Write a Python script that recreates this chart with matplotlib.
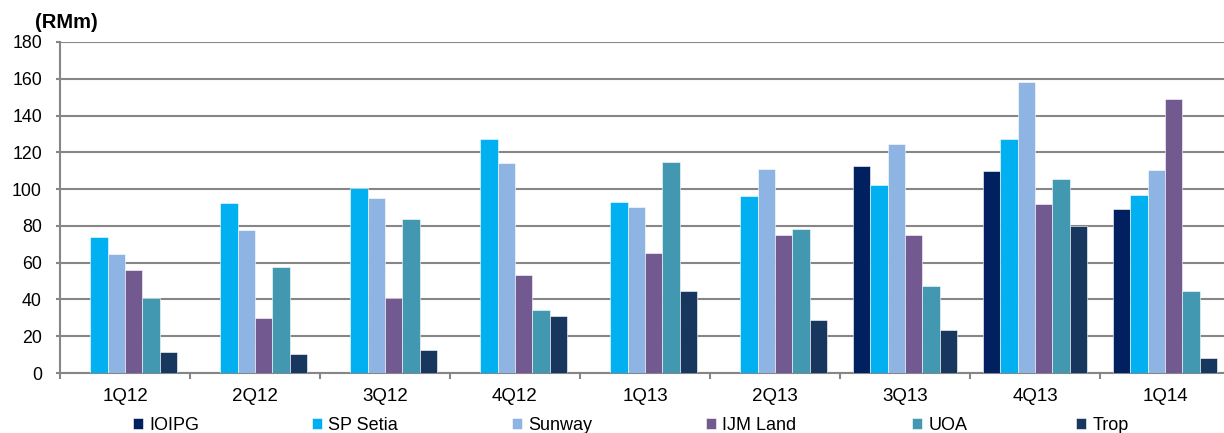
import numpy as np
from matplotlib import pyplot as plt

plt.rcParams['font.family'] = ['Liberation Sans', 'DejaVu Sans']

quarters = ['1Q12', '2Q12', '3Q12', '4Q12', '1Q13', '2Q13', '3Q13', '4Q13', '1Q14']
series = ['IOIPG', 'SP Setia', 'Sunway', 'IJM Land', 'UOA', 'Trop']

ioipg = [0, 0, 0, 0, 0, 0, 112.5, 110, 89]
sp_setia = [74, 92.5, 100.5, 127, 93, 96, 102, 127.5, 97]
sunway = [64.5, 78, 95, 114, 90.5, 111, 124.5, 158, 110.5]
ijm_land = [56, 30, 41, 53.5, 65.5, 75, 75, 92, 149]
uoa = [41, 57.5, 84, 34, 115, 78.5, 47.5, 105.5, 44.5]
trop = [11.5, 10.5, 12.5, 31, 44.5, 29, 23.5, 80, 8]

colors = ['#002060', '#00B0F0', '#8EB4E3', '#72598F', '#4298B0', '#17375E']

data = [ioipg, sp_setia, sunway, ijm_land, uoa, trop]

fig = plt.figure(figsize=(12.24, 4.33), dpi=100)
ax = fig.add_axes([60 / 1224, 1 - 373 / 433, 1170 / 1224, 331 / 433])

x = np.arange(len(quarters))
w = 0.8 / len(series)
bars = []
for i, (name, vals) in enumerate(zip(series, data)):
    b = ax.bar(x - 0.4 + w * (i + 0.5), vals, width=w, color=colors[i], label=name,
               edgecolor='white', linewidth=0.4, zorder=3)
    bars.append(b)

ax.set_xlim(-0.5, len(quarters) - 0.5)
ax.set_ylim(0, 180)
ax.set_yticks(range(0, 181, 20))
ax.set_xticks(x)
ax.set_xticklabels(quarters)
ax.set_xticks(np.arange(-0.5, len(quarters), 1), minor=True)
ax.tick_params(axis='x', which='major', length=0, pad=11, labelsize=13.5)
ax.tick_params(axis='x', which='minor', length=4, width=1.5, color='#868686')
ax.tick_params(axis='y', length=3, width=1.5, color='#868686', labelsize=12.8, pad=10)

ax.grid(axis='y', color='#868686', linewidth=1.5, zorder=0)
for s in ['top', 'right']:
    ax.spines[s].set_visible(False)
for s in ['left', 'bottom']:
    ax.spines[s].set_color('#868686')
    ax.spines[s].set_linewidth(1.5)

fig.text(66 / 1224, 1 - 22 / 433, '(RMm)', fontsize=14.5, fontweight='bold',
         ha='center', va='center')

# legend entries placed one by one, as in the original
leg_x = [133, 312, 512, 706, 912, 1076]
for b, name, lx in zip(bars, series, leg_x):
    leg = fig.legend([b], [name], loc='center left',
                     bbox_to_anchor=(lx / 1224, 1 - 425 / 433), frameon=False,
                     fontsize=13, handlelength=0.55, handleheight=0.55,
                     handletextpad=0.35, borderpad=0, borderaxespad=0)

fig.savefig('out.png', dpi=100)
